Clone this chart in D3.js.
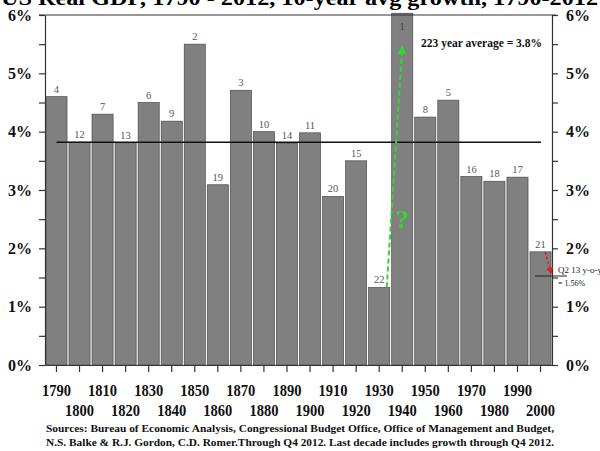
<!DOCTYPE html>
<html>
<head>
<meta charset="utf-8">
<script src="https://cdn.jsdelivr.net/npm/d3@7/dist/d3.min.js"></script>
<style>
  html, body { margin: 0; padding: 0; background: #fff; }
  svg { display: block; }
  text { font-family: "Liberation Serif", "Times New Roman", serif; }
</style>
</head>
<body>
<svg id="chart" width="600" height="451"></svg>
<script>
// Decade start years and 10-year average real GDP growth (%)
const decades = [1790, 1800, 1810, 1820, 1830, 1840, 1850, 1860, 1870, 1880, 1890,
                 1900, 1910, 1920, 1930, 1940, 1950, 1960, 1970, 1980, 1990, 2000];
const growth  = [4.60, 3.82, 4.30, 3.81, 4.50, 4.18, 5.50, 3.09, 4.71, 4.00, 3.80,
                 3.98, 2.89, 3.50, 1.33, 6.03, 4.25, 4.54, 3.23, 3.15, 3.22, 1.94];
const ranks   = [4, 12, 7, 13, 6, 9, 2, 19, 3, 10, 14, 11, 20, 15, 22, 1, 8, 5, 16, 18, 17, 21];
const yTicks  = [0, 1, 2, 3, 4, 5, 6];
const longRunAverage = 3.82;
const latestYoY = 1.56;

const svg = d3.select("#chart");
const plotLeft = 45, plotRight = 552, plotTop = 15, plotBottom = 365;

const x = d3.scaleBand().domain(decades).range([plotLeft, plotRight]).paddingInner(0.085).paddingOuter(0.04);
const y = d3.scaleLinear().domain([0, 6]).range([plotBottom, plotTop]);

// Title (runs off the top edge)
svg.append("text")
  .attr("x", 1).attr("y", 5)
  .attr("font-size", 22).attr("font-weight", "bold")
  .attr("textLength", 597).attr("lengthAdjust", "spacingAndGlyphs")
  .text("US Real GDP, 1790 - 2012, 10-year avg growth, 1790-2012");

// Bars
svg.append("g").selectAll("rect").data(decades).join("rect")
  .attr("x", d => x(d))
  .attr("width", x.bandwidth())
  .attr("y", (d, i) => y(growth[i]))
  .attr("height", (d, i) => plotBottom - y(growth[i]))
  .attr("fill", "#808080")
  .attr("stroke", "#4a4a4a")
  .attr("stroke-width", 0.7);

// Rank labels over bars
svg.append("g").selectAll("text").data(decades).join("text")
  .attr("x", d => x(d) + x.bandwidth() / 2)
  .attr("y", (d, i) => growth[i] > 5.9 ? y(growth[i]) + 17 : y(growth[i]) - 4)
  .attr("text-anchor", "middle")
  .attr("font-size", 10.5)
  .attr("fill", (d, i) => growth[i] > 5.9 ? "#444" : "#555")
  .text((d, i) => ranks[i]);

// Plot frame top line
svg.append("line")
  .attr("x1", plotLeft - 6).attr("x2", plotRight + 4)
  .attr("y1", y(6)).attr("y2", y(6))
  .attr("stroke", "#333").attr("stroke-width", 1.2);

// Axes
const pctTicks = d3.range(0, 6.01, 0.5);
const pctFmt = v => yTicks.includes(v) ? v + "%" : "";

const yl = svg.append("g").attr("transform", `translate(${plotLeft},0)`)
  .call(d3.axisLeft(y).tickValues(pctTicks).tickSize(6).tickSizeOuter(0).tickPadding(7).tickFormat(pctFmt));
const yr = svg.append("g").attr("transform", `translate(${plotRight},0)`)
  .call(d3.axisRight(y).tickValues(pctTicks).tickSize(6).tickSizeOuter(0).tickPadding(8).tickFormat(pctFmt));
const xa = svg.append("g").attr("transform", `translate(0,${plotBottom})`)
  .call(d3.axisBottom(x).tickSize(7).tickSizeOuter(0).tickFormat(""));

[yl, yr, xa].forEach(g => {
  g.selectAll("path, line").attr("stroke", "#333").attr("stroke-width", 1.2);
  g.selectAll("text").attr("font-family", "Liberation Serif, serif")
    .attr("font-size", 16).attr("font-weight", "bold").attr("fill", "#111");
});

// Alternating decade labels
svg.append("g").selectAll("text").data(decades).join("text")
  .attr("x", d => x(d) + x.bandwidth() / 2)
  .attr("y", (d, i) => i % 2 === 0 ? 390 : 410)
  .attr("dy", "0.35em")
  .attr("text-anchor", "middle")
  .attr("font-size", 16).attr("font-weight", "bold").attr("fill", "#111")
  .attr("textLength", 29).attr("lengthAdjust", "spacingAndGlyphs")
  .text(d => d);

// Long-run average line
svg.append("line")
  .attr("x1", x(1790) + x.bandwidth() / 2).attr("x2", plotRight - 11)
  .attr("y1", y(longRunAverage)).attr("y2", y(longRunAverage))
  .attr("stroke", "#111").attr("stroke-width", 1.5);

svg.append("text")
  .attr("x", 421).attr("y", 47)
  .attr("font-size", 11.5).attr("font-weight", "bold").attr("fill", "#111")
  .text("223 year average = 3.8%");

// Arrow markers
const defs = svg.append("defs");
function marker(id, color) {
  defs.append("marker").attr("id", id)
    .attr("viewBox", "0 0 10 10").attr("refX", 8).attr("refY", 5)
    .attr("markerWidth", 4.5).attr("markerHeight", 4.5).attr("orient", "auto")
    .append("path").attr("d", "M0,0L10,5L0,10z").attr("fill", color);
}
marker("greenHead", "#35d435");
marker("redHead", "#e02020");

// Green dashed arrow from the 1930s to the 1940s
svg.append("line")
  .attr("x1", x(1930) + x.bandwidth() - 3).attr("y1", y(growth[14]))
  .attr("x2", x(1940) + x.bandwidth() / 2).attr("y2", y(5.45))
  .attr("stroke", "#35d435").attr("stroke-width", 2)
  .attr("stroke-dasharray", "5,3")
  .attr("marker-end", "url(#greenHead)");

svg.append("text")
  .attr("x", x(1940) + x.bandwidth() / 2).attr("y", 228)
  .attr("text-anchor", "middle")
  .attr("font-family", "Liberation Sans, Arial, sans-serif")
  .attr("font-size", 26).attr("font-weight", "bold").attr("fill", "#35d435")
  .text("?");

// Red dashed arrow to latest year-over-year reading
svg.append("line")
  .attr("x1", x(2000) + x.bandwidth() - 6).attr("y1", y(growth[21]))
  .attr("x2", plotRight - 1).attr("y2", y(latestYoY) - 1)
  .attr("stroke", "#e02020").attr("stroke-width", 1.5)
  .attr("stroke-dasharray", "3,2")
  .attr("marker-end", "url(#redHead)");

svg.append("line")
  .attr("x1", x(2000) + 5).attr("x2", 567)
  .attr("y1", y(latestYoY) + 2).attr("y2", y(latestYoY) + 2)
  .attr("stroke", "#222").attr("stroke-width", 1);

svg.append("text")
  .attr("x", 558).attr("y", y(latestYoY) - 1)
  .attr("font-size", 9).attr("fill", "#222")
  .text("Q2 13 y-o-y");
svg.append("text")
  .attr("x", 558).attr("y", y(latestYoY) + 12)
  .attr("font-size", 8).attr("fill", "#222")
  .text("= " + latestYoY + "%");

// Source notes
svg.append("text")
  .attr("x", 300).attr("y", 432)
  .attr("text-anchor", "middle")
  .attr("font-size", 11).attr("font-weight", "bold").attr("fill", "#111")
  .attr("textLength", 508).attr("lengthAdjust", "spacingAndGlyphs")
  .text("Sources: Bureau of Economic Analysis, Congressional Budget Office, Office of Management and Budget,");
svg.append("text")
  .attr("x", 300).attr("y", 446)
  .attr("text-anchor", "middle")
  .attr("font-size", 11).attr("font-weight", "bold").attr("fill", "#111")
  .attr("textLength", 508).attr("lengthAdjust", "spacingAndGlyphs")
  .text("N.S. Balke & R.J. Gordon, C.D. Romer.Through  Q4 2012. Last decade includes growth through Q4 2012.");
</script>
</body>
</html>
